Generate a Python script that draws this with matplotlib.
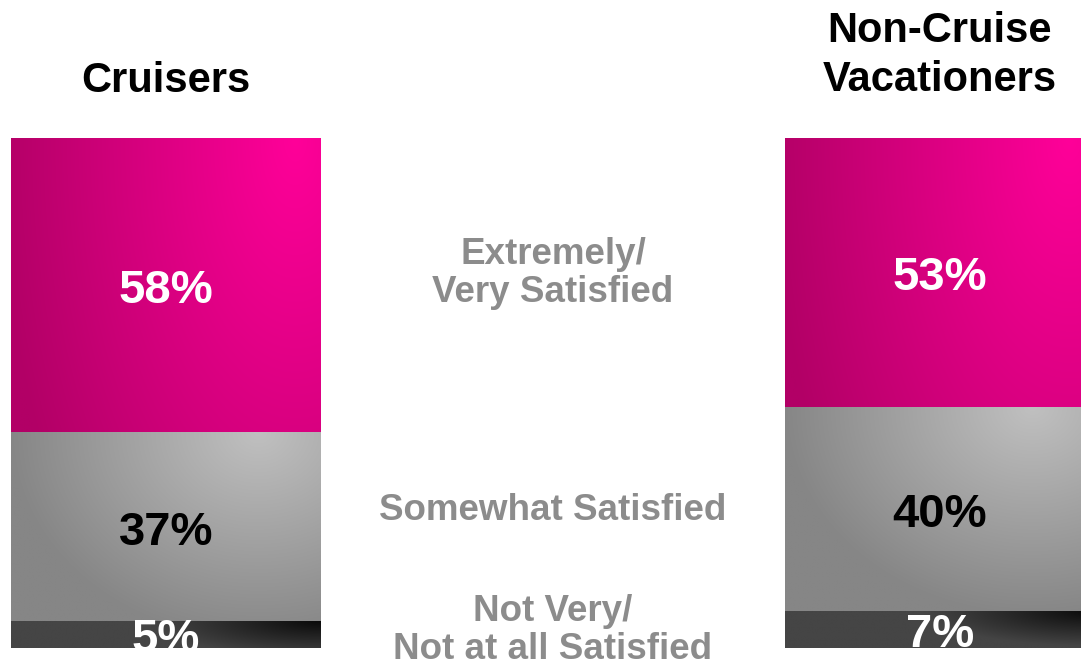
import numpy as np
import matplotlib
matplotlib.use("Agg")
import matplotlib.pyplot as plt
from matplotlib.colors import to_rgb

plt.rcParams['font.family'] = ['Liberation Sans', 'DejaVu Sans']

# Data
groups = ["Cruisers", "Non-Cruise\nVacationers"]
levels = ["Extremely/\nVery Satisfied", "Somewhat Satisfied", "Not Very/\nNot at all Satisfied"]
top_box = [58, 53]        # Extremely / Very Satisfied
middle_box = [37, 40]     # Somewhat Satisfied
bottom_box = [5, 7]       # Not Very / Not at all Satisfied
series = [top_box, middle_box, bottom_box]

# Gradient styles per segment: (bright colour, dark colour, hot spot (u, v), vertical stretch, radius in px)
styles = [
    ("#ff0099", "#b20066", (0.92, 1.0), 0.5, 300),
    ("#c0c0c0", "#868686", (0.8, 1.0), 1.2, 250),
    ("#0a0a0a", "#454545", (1.00, 1.0), 5.0, 170),
]
label_colors = ["white", "black", "white"]

fig = plt.figure(figsize=(10.81, 6.65), dpi=100)
ax = fig.add_axes([0, 17 / 665, 1, 510 / 665])
ax.set_xlim(-166 / 774, 1 + 141 / 774)
ax.set_ylim(0, 100)
ax.axis("off")

x = np.arange(len(groups))
width = 310 / 774


def gradient_fill(ax, rect, bright, dark, hot, stretch, radius, z):
    x0, y0 = rect.get_x(), rect.get_y()
    w, h = rect.get_width(), rect.get_height()
    p0 = ax.transData.transform((x0, y0))
    p1 = ax.transData.transform((x0 + w, y0 + h))
    wpx, hpx = abs(p1[0] - p0[0]), abs(p1[1] - p0[1])
    nx, ny = 220, 140
    u = np.linspace(0, 1, nx)
    v = np.linspace(1, 0, ny)
    U, V = np.meshgrid(u, v)
    dx = (U - hot[0]) * wpx
    dy = (V - hot[1]) * hpx * stretch
    t = np.clip(np.hypot(dx, dy) / radius, 0, 1)[..., None]
    c0 = np.array(to_rgb(bright))
    c1 = np.array(to_rgb(dark))
    img = c0 * (1 - t) + c1 * t
    # extend slightly upward so stacked segments meet without a seam
    ax.imshow(img, extent=(x0, x0 + w, y0, y0 + h + 0.15), aspect="auto",
              interpolation="bilinear", zorder=z)


bottoms = np.full(len(groups), 100.0)
mids = []
for k, (vals, style, lc) in enumerate(zip(series, styles, label_colors)):
    vals = np.array(vals, dtype=float)
    bottoms = bottoms - vals
    bars = ax.bar(x, vals, width, bottom=bottoms, color=style[1], edgecolor="none", zorder=0)
    for rect in bars:
        gradient_fill(ax, rect, *style, z=1 + k * 0.1)
    centers = bottoms + vals / 2
    mids.append(centers)
    for xi, val, c in zip(x, vals, centers):
        ax.text(xi, c, f"{val:.0f}%", ha="center", va="center_baseline", color=lc,
                fontsize=34, fontweight="bold", zorder=3)
ax.set_ylim(0, 100)
ax.set_xlim(-166 / 774, 1 + 141 / 774)

# Segment names between the two bars
for name, c in zip(levels, mids):
    ax.text(0.5, c[1], name, ha="center", va="center", color="#8c8c8c",
            fontsize=26.5, fontweight="bold", linespacing=1.12, zorder=3)

# Group headings
for xi, g in zip(x, groups):
    y = 111.2 if "\n" not in g else 116.2
    ax.text(xi, y, g, ha="center", va="center", color="black", fontsize=30,
            fontweight="bold", clip_on=False, linespacing=1.3)

fig.savefig("out.png", dpi=100)
